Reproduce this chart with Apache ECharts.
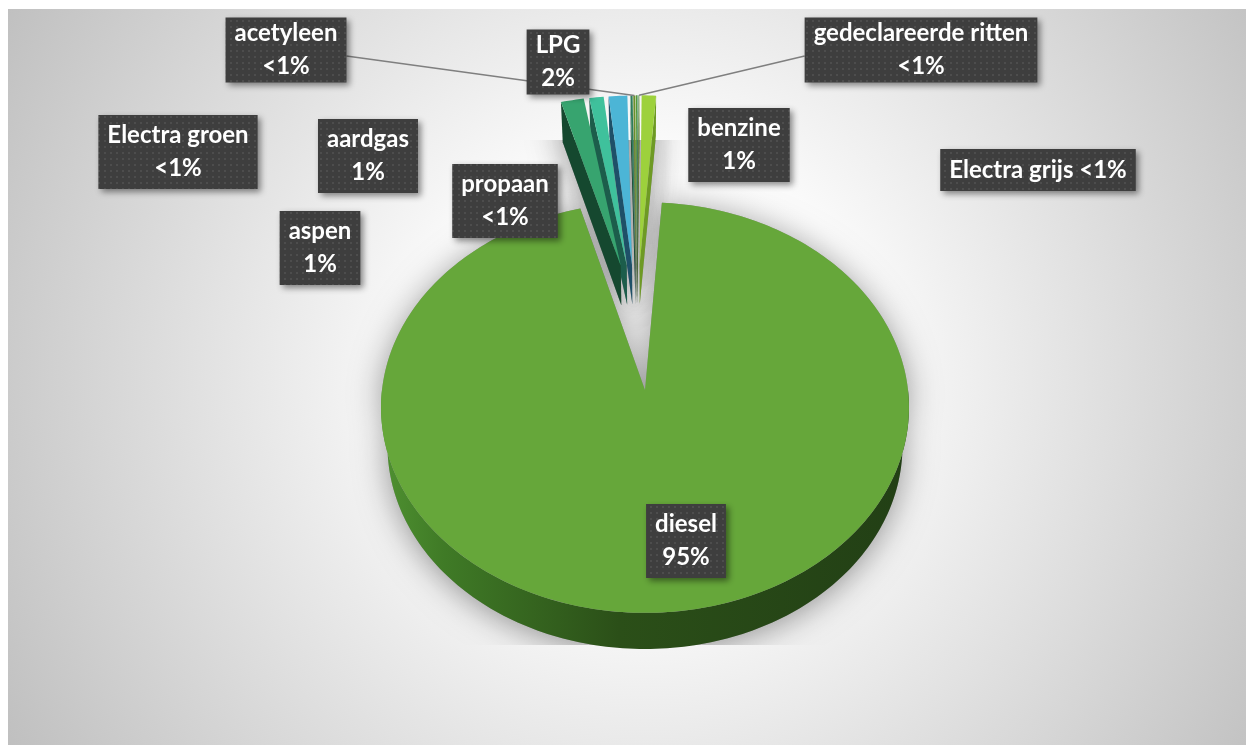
<!DOCTYPE html>
<html>
<head>
<meta charset="utf-8">
<script src="https://cdn.jsdelivr.net/npm/echarts@6/dist/echarts.min.js"></script>
<style>
  html, body { margin: 0; padding: 0; background: #ffffff; }
  #chart { width: 1246px; height: 745px; }
</style>
</head>
<body>
<div id="chart"></div>
<script>
// Fuel categories, listed clockwise from the first slice
const categories = ['diesel', 'LPG', 'aspen', 'aardgas', 'propaan', 'acetyleen',
  'Electra groen', 'Electra grijs', 'gedeclareerde ritten', 'benzine'];
// Share per category (percent)
const values = [94.6, 1.6, 1.0, 1.3, 0.15, 0.15, 0.1, 0.05, 0.05, 1.0];

// Appearance
const topColors = ['#66a73a', '#37a46f', '#3fc19c', '#4cb5d6', '#2e7d5b', '#6b8f2c',
  '#4f9a3a', '#2f7f8f', '#7aa334', '#9dd13c'];
const wallColors = ['#2d5a1c', '#15482f', '#1c5d4b', '#1e5068', '#174733', '#3a5218',
  '#2a5a20', '#1a4b55', '#46601c', '#6e9a24'];
const explode = [0, 0.65, 0.65, 0.65, 0.65, 0.65, 0.65, 0.65, 0.65, 0.65];
// Label box centres, heights and options
const labelCenters = [[686, 541], [558, 62], [320, 248], [368, 156], [505, 201], [286, 50],
  [178, 152], [1038, 170], [921, 50], [739, 145]];
const labelHeights = [74, 65, 74, 74, 74, 65, 74, 42, 65, 74];
const labelOneLine = [false, false, false, false, false, false, false, true, false, false];
const labelLeader = [false, false, false, false, false, true, false, false, true, false];

// 3D projection settings
const CX = 645, CY = 390, S = 263;
const SINA = 0.775, COSA = Math.sqrt(1 - SINA * SINA);
const DIST = 7.4, DEPTH = 0.238;
const START_DEG = 4;
// exploded slices move out along a narrowed fan of directions
const FAN = 0.454, FAN_SHIFT = -2.9 * Math.PI / 180;
const FONT = 'bold 24px Lato';
const LINE_H = 33, PAD_X = 9;

function proj(X, Z, Y) {
  const yc = Y * COSA + Z * SINA;
  const dep = -Y * SINA + Z * COSA;
  const k = DIST / (DIST + dep);
  return [CX + S * X * k, CY - S * yc * k];
}

const total = values.reduce((a, b) => a + b, 0);
const slices = [];
let acc = 0;
values.forEach((v, i) => {
  const a0 = (START_DEG + acc / total * 360) * Math.PI / 180;
  acc += v;
  const a1 = (START_DEG + acc / total * 360) * Math.PI / 180;
  const am = (a0 + a1) / 2;
  const amN = Math.atan2(Math.sin(am), Math.cos(am));
  const dir = amN * FAN + FAN_SHIFT;
  const e = explode[i];
  slices.push({ a0, a1, am, ox: e * Math.sin(dir), oz: e * Math.cos(dir) });
});
// paint slices nearest the back first
const order = slices.map((s, i) => i).filter(i => explode[i] > 0)
  .sort((p, q) => Math.cos(slices[q].am) - Math.cos(slices[p].am));
const rank = {};
order.forEach((idx, r) => { rank[idx] = r; });

function arc(s, from, to, Y) {
  const pts = [];
  const n = Math.max(2, Math.ceil(Math.abs(to - from) / 0.02));
  for (let j = 0; j <= n; j++) {
    const t = from + (to - from) * j / n;
    pts.push(proj(s.ox + Math.sin(t), s.oz + Math.cos(t), Y));
  }
  return pts;
}

function pctText(v) {
  const p = v / total * 100;
  return p < 1 ? '<1%' : Math.round(p) + '%';
}

// dotted fill for label boxes
const tile = document.createElement('canvas');
tile.width = 6; tile.height = 6;
(function () {
  const c = tile.getContext('2d');
  c.fillStyle = '#3e3e3e'; c.fillRect(0, 0, 6, 6);
  c.fillStyle = '#4d4d4d'; c.fillRect(2, 2, 2, 2);
})();
const measureCtx = document.createElement('canvas').getContext('2d');
measureCtx.font = FONT;

const bgGradient = {
  type: 'radial', x: 645, y: 370, r: 760, global: true,
  colorStops: [{ offset: 0, color: '#ffffff' }, { offset: 0.3, color: '#fafafa' }, { offset: 1, color: '#bdbdbd' }]
};
const sideGradient = {
  type: 'linear', x: 381, y: 0, x2: 910, y2: 0, global: true,
  colorStops: [{ offset: 0, color: '#4f9131' }, { offset: 0.12, color: '#3f7a26' },
    { offset: 0.45, color: '#2b4f18' }, { offset: 1, color: '#223f15' }]
};
const shadowStyle = { fill: '#999999', shadowBlur: 32, shadowColor: 'rgba(0,0,0,0.4)', shadowOffsetY: 4 };

function renderItem(params, api) {
  const i = params.dataIndex;
  const s = slices[i];
  const children = [];
  const apexTop = proj(s.ox, s.oz, 0);
  const apexBot = proj(s.ox, s.oz, -DEPTH);
  const topPts = [apexTop].concat(arc(s, s.a0, s.a1, 0));

  if (explode[i] === 0) {
    const h1 = Math.PI / 2, h2 = Math.PI * 1.5;
    const sil = [apexTop].concat(arc(s, s.a0, h1, 0), arc(s, h1, h2, -DEPTH), arc(s, h2, s.a1, 0));
    children.push({ type: 'polygon', shape: { points: sil }, style: shadowStyle, z2: 1 });
    const side = arc(s, h1, h2, 0).concat(arc(s, h2, h1, -DEPTH));
    children.push({ type: 'polygon', shape: { points: side }, style: { fill: sideGradient }, z2: 10 });
    children.push({ type: 'polygon', shape: { points: topPts }, style: { fill: topColors[i] }, z2: 11 });
  } else {
    const base = 2 + rank[i] * 0.6;
    const camZ = -DIST * COSA;
    const walls = [];
    if (-s.ox * -Math.cos(s.a0) + (camZ - s.oz) * Math.sin(s.a0) > 0) walls.push(s.a0);
    if (-s.ox * Math.cos(s.a1) + (camZ - s.oz) * -Math.sin(s.a1) > 0) walls.push(s.a1);
    walls.forEach(t => {
      const rt = proj(s.ox + Math.sin(t), s.oz + Math.cos(t), 0);
      const rb = proj(s.ox + Math.sin(t), s.oz + Math.cos(t), -DEPTH);
      const pts = [apexTop, rt, rb, apexBot];
      children.push({ type: 'polygon', shape: { points: pts }, style: shadowStyle, z2: 1 });
      children.push({ type: 'polygon', shape: { points: pts }, style: { fill: wallColors[i] }, z2: base });
    });
    children.push({ type: 'polygon', shape: { points: topPts }, style: shadowStyle, z2: 1 });
    children.push({ type: 'polygon', shape: { points: topPts }, style: { fill: topColors[i] }, z2: base + 0.3 });
  }

  // label box
  const text = labelOneLine[i] ? categories[i] + ' ' + pctText(values[i])
    : categories[i] + '\n' + pctText(values[i]);
  const lines = text.split('\n');
  const w = Math.max.apply(null, lines.map(l => measureCtx.measureText(l).width)) + PAD_X * 2;
  const h = labelHeights[i];
  const [lx, ly] = labelCenters[i];
  children.push({
    type: 'rect', shape: { x: lx - w / 2, y: ly - h / 2, width: w, height: h },
    style: { fill: { image: tile, repeat: 'repeat' }, shadowBlur: 6, shadowOffsetX: 3, shadowOffsetY: 3, shadowColor: 'rgba(0,0,0,0.45)' },
    z2: 40
  });
  children.push({
    type: 'text',
    style: { text, x: lx, y: ly, fill: '#ffffff', font: FONT, align: 'center', verticalAlign: 'middle', lineHeight: LINE_H },
    z2: 41
  });
  if (labelLeader[i]) {
    const tip = proj(s.ox + Math.sin(s.am), s.oz + Math.cos(s.am), 0);
    const bx = tip[0] > lx ? lx + w / 2 : lx - w / 2;
    children.push({
      type: 'polyline', shape: { points: [[bx, ly + 6], tip] },
      style: { stroke: '#7f7f7f', lineWidth: 1.5, fill: null }, z2: 35
    });
  }
  if (i === 0) {
    // keep the pie shadow inside its band
    children.push({ type: 'rect', shape: { x: 8, y: 9, width: 1238, height: 131 }, style: { fill: bgGradient }, z2: 1.5 });
    children.push({ type: 'rect', shape: { x: 8, y: 645, width: 1238, height: 100 }, style: { fill: bgGradient }, z2: 1.5 });
  }
  return { type: 'group', children };
}

const chart = echarts.init(document.getElementById('chart'));
chart.setOption({
  backgroundColor: '#ffffff',
  animation: false,
  graphic: [{
    type: 'rect', z: -10, silent: true,
    shape: { x: 8, y: 9, width: 1238, height: 736 },
    style: { fill: bgGradient }
  }],
  series: [{
    type: 'custom',
    coordinateSystem: 'none',
    renderItem,
    data: values.map((v, i) => ({ name: categories[i], value: v }))
  }]
});
</script>
</body>
</html>
